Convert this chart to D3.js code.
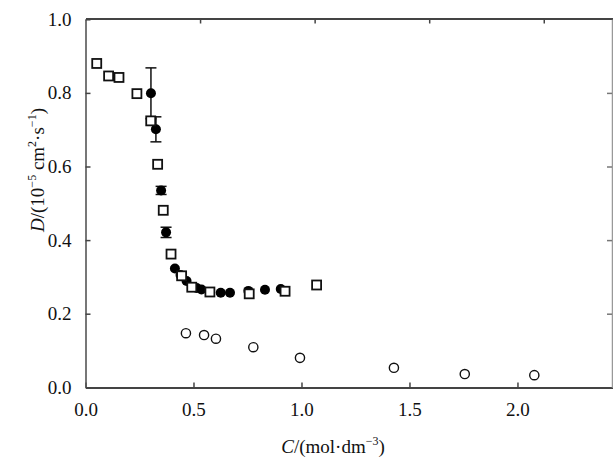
<!DOCTYPE html>
<html>
<head>
<meta charset="utf-8">
<script src="https://cdn.jsdelivr.net/npm/d3@7/dist/d3.min.js"></script>
<style>
  html, body { margin: 0; padding: 0; background: #fff; }
  svg { display: block; }
  svg text { font-family: "Liberation Serif", "DejaVu Serif", serif !important; fill: #111; }
</style>
</head>
<body>
<svg id="chart" width="613" height="460"></svg>
<script>
// Open squares
const squareC = [0.052, 0.107, 0.155, 0.238, 0.302, 0.334, 0.360, 0.396, 0.445, 0.492, 0.576, 0.758, 0.924, 1.070];
const squareD = [0.880, 0.846, 0.842, 0.798, 0.724, 0.606, 0.481, 0.362, 0.303, 0.272, 0.259, 0.254, 0.261, 0.278];

// Filled circles with error bars
const filledC = [0.303, 0.326, 0.350, 0.373, 0.414, 0.440, 0.468, 0.515, 0.537, 0.626, 0.669, 0.754, 0.831, 0.904];
const filledD = [0.799, 0.701, 0.535, 0.421, 0.323, 0.305, 0.289, 0.270, 0.266, 0.257, 0.257, 0.262, 0.265, 0.267];
const filledErr = [0.069, 0.034, 0.011, 0.014, 0, 0, 0, 0, 0, 0, 0, 0, 0, 0];

// Open circles
const openC = [0.465, 0.549, 0.604, 0.777, 0.993, 1.428, 1.756, 2.078];
const openD = [0.147, 0.142, 0.132, 0.109, 0.080, 0.053, 0.036, 0.033];

// Tick labels
const xTicks = [0.0, 0.5, 1.0, 1.5, 2.0];
const xTopTicks = [0.5, 1.0, 1.5, 2.0];
const yTicks = [0.0, 0.2, 0.4, 0.6, 0.8, 1.0];

const SERIF = '"Liberation Serif", "DejaVu Serif", serif';
const svg = d3.select("#chart");
const L = 85.5, R = 612.5, T = 18.5, B = 387.5;

const x = d3.scaleLinear().domain([0, 2.44]).range([L, R]);
const xTop = d3.scaleLinear().domain([0, 2.3]).range([L, R]);
const y = d3.scaleLinear().domain([0, 1.0]).range([B - 0.2, T + 0.8]);

const frame = "#444";

// Bottom axis
const gB = svg.append("g").attr("transform", `translate(0,${B})`)
  .call(d3.axisBottom(x).tickValues(xTicks).tickSizeInner(-5).tickSizeOuter(0).tickPadding(10)
        .tickFormat(d3.format(".1f")));
gB.attr("font-family", SERIF);
gB.select(".domain").attr("stroke", frame).attr("stroke-width", 2);
gB.selectAll(".tick line").attr("stroke", frame).attr("stroke-width", 1.5);
gB.selectAll(".tick text").attr("font-size", 19).attr("dy", "0.95em")
  .style("font-family", SERIF).attr("fill", "#111");

// Top axis
const gT = svg.append("g").attr("transform", `translate(0,${T})`)
  .call(d3.axisTop(xTop).tickValues(xTopTicks).tickSizeInner(-5).tickSizeOuter(0).tickFormat(""));
gT.select(".domain").attr("stroke", frame).attr("stroke-width", 2);
gT.selectAll(".tick line").attr("stroke", frame).attr("stroke-width", 1.5);

// Left axis
const gL = svg.append("g").attr("transform", `translate(${L},0)`)
  .call(d3.axisLeft(y).tickValues(yTicks).tickSizeInner(-5).tickSizeOuter(0).tickPadding(14)
        .tickFormat(d3.format(".1f")));
gL.attr("font-family", SERIF);
gL.select(".domain").attr("stroke", "#555").attr("stroke-width", 1.6);
gL.selectAll(".tick line").attr("stroke", frame).attr("stroke-width", 1.5);
gL.selectAll(".tick text").attr("font-size", 19)
  .style("font-family", SERIF).attr("fill", "#111");

// Right axis
const gR = svg.append("g").attr("transform", `translate(${R - 0.5},0)`)
  .call(d3.axisRight(y).tickValues(yTicks.slice(1, 5)).tickSizeInner(-5).tickSizeOuter(0).tickFormat(""));
gR.select(".domain").attr("stroke", "#999").attr("stroke-width", 1.5);
gR.selectAll(".tick line").attr("stroke", "#777").attr("stroke-width", 1.5);

// Data
const squares = squareC.map((c, i) => ({ c, d: squareD[i] }));
const filled = filledC.map((c, i) => ({ c, d: filledD[i], e: filledErr[i] }));
const opens = openC.map((c, i) => ({ c, d: openD[i] }));

const plot = svg.append("g");

// Error bars
const eb = plot.selectAll(".eb").data(filled.filter(p => p.e > 0)).enter().append("g");
eb.append("line")
  .attr("x1", p => x(p.c)).attr("x2", p => x(p.c))
  .attr("y1", p => y(p.d + p.e)).attr("y2", p => y(p.d - p.e))
  .attr("stroke", "#111").attr("stroke-width", 1.5);
eb.append("line")
  .attr("x1", p => x(p.c) - 5.5).attr("x2", p => x(p.c) + 5.5)
  .attr("y1", p => y(p.d + p.e)).attr("y2", p => y(p.d + p.e))
  .attr("stroke", "#111").attr("stroke-width", 1.5);
eb.append("line")
  .attr("x1", p => x(p.c) - 5.5).attr("x2", p => x(p.c) + 5.5)
  .attr("y1", p => y(p.d - p.e)).attr("y2", p => y(p.d - p.e))
  .attr("stroke", "#111").attr("stroke-width", 1.5);

// Open circles
plot.selectAll(".oc").data(opens).enter().append("circle")
  .attr("cx", p => x(p.c)).attr("cy", p => y(p.d)).attr("r", 4.6)
  .attr("fill", "#fff").attr("stroke", "#111").attr("stroke-width", 1.4);

// Filled circles
plot.selectAll(".fc").data(filled).enter().append("circle")
  .attr("cx", p => x(p.c)).attr("cy", p => y(p.d)).attr("r", 5)
  .attr("fill", "#000");

// Open squares
plot.selectAll(".sq").data(squares).enter().append("rect")
  .attr("x", p => x(p.c) - 4.5).attr("y", p => y(p.d) - 4.5)
  .attr("width", 9).attr("height", 9)
  .attr("fill", "#fff").attr("stroke", "#111").attr("stroke-width", 1.8);

// Axis titles
const xt = svg.append("text").attr("x", 333).attr("y", 453)
  .attr("text-anchor", "middle").attr("font-size", 19).style("font-family", SERIF);
xt.append("tspan").attr("font-style", "italic").text("C");
xt.append("tspan").text("/(mol·dm");
xt.append("tspan").attr("font-size", 12).attr("dy", -8).text("−3");
xt.append("tspan").attr("dy", 8).text(")");

const yt = svg.append("text").attr("transform", "translate(44,170) rotate(-90)")
  .attr("text-anchor", "middle").attr("font-size", 19).style("font-family", SERIF);
yt.append("tspan").attr("font-style", "italic").text("D");
yt.append("tspan").text("/(10");
yt.append("tspan").attr("font-size", 12).attr("dy", -8).text("−5");
yt.append("tspan").attr("dy", 8).text(" cm");
yt.append("tspan").attr("font-size", 12).attr("dy", -8).text("2");
yt.append("tspan").attr("dy", 8).text("·s");
yt.append("tspan").attr("font-size", 12).attr("dy", -8).text("−1");
yt.append("tspan").attr("dy", 8).text(")");
</script>
</body>
</html>
